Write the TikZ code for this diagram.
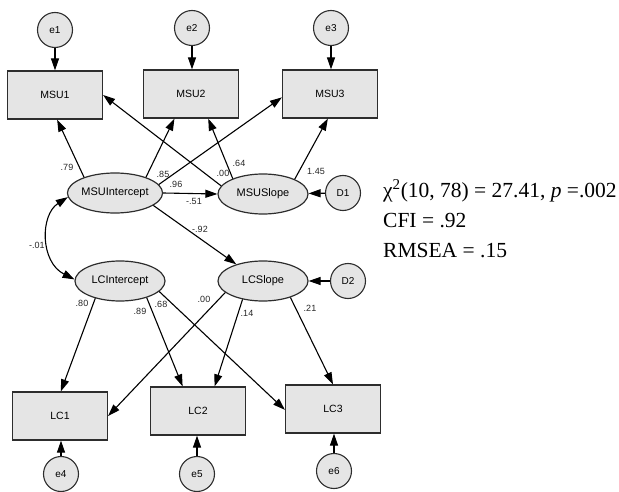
\documentclass[tikz,border=0pt]{standalone}
\usepackage{fontspec}
\setmainfont{Liberation Serif}
\setsansfont{Liberation Sans}
\usetikzlibrary{arrows.meta,shapes.geometric}
\definecolor{boxgray}{RGB}{229,229,229}
\definecolor{edgegray}{RGB}{45,45,45}
\begin{document}
\begin{tikzpicture}[x=1pt,y=-1pt,
  obs/.style={draw=edgegray, fill=boxgray, line width=1.2pt, minimum width=95pt, minimum height=48pt, inner sep=0pt, font=\sffamily\fontsize{10.5}{12}\selectfont},
  lat/.style={ellipse, draw=edgegray, fill=boxgray, line width=1.2pt, minimum width=90pt, minimum height=40pt, inner sep=0pt, font=\sffamily\fontsize{11}{12}\selectfont},
  err/.style={circle, draw=edgegray, fill=boxgray, line width=1.1pt, minimum size=35pt, inner sep=0pt, font=\sffamily\fontsize{10}{12}\selectfont},
  pth/.style={-{Triangle[length=12pt,width=8pt]}, line width=1.1pt, draw=black},
  coef/.style={font=\sffamily\fontsize{9}{10}\selectfont, inner sep=0pt, text=black!85},
  stat/.style={anchor=base west, inner sep=0pt, font=\fontsize{21.5}{24}\selectfont}
]
\useasboundingbox (0,0) rectangle (619,492);
% observed
\node[obs] (msu1) at (55,95) {MSU1};
\node[obs] (msu2) at (191,94) {MSU2};
\node[obs] (msu3) at (330,94) {MSU3};
\node[obs] (lc1) at (60,416) {LC1};
\node[obs] (lc2) at (198,411) {LC2};
\node[obs] (lc3) at (333,409) {LC3};
% errors
\node[err] (e1) at (55,30) {e1};
\node[err] (e2) at (192,28) {e2};
\node[err] (e3) at (331,28) {e3};
\node[err] (e4) at (61,474) {e4};
\node[err] (e5) at (197,474) {e5};
\node[err] (e6) at (334,471) {e6};
% latents
\node[lat] (mi) at (115,193) {MSUIntercept};
\node[lat] (ms) at (263,194) {MSUSlope};
\node[lat] (li) at (120,281) {LCIntercept};
\node[lat] (ls) at (263,281) {LCSlope};
\node[err] (d1) at (343,193) {D1};
\node[err] (d2) at (348,281) {D2};
% error paths
\draw[pth] (e1) -- (e1 |- msu1.north);
\draw[pth] (e2) -- (e2 |- msu2.north);
\draw[pth] (e3) -- (e3 |- msu3.north);
\draw[pth] (e4) -- (e4 |- lc1.south);
\draw[pth] (e5) -- (e5 |- lc2.south);
\draw[pth] (e6) -- (e6 |- lc3.south);
\draw[pth] (d1) -- (ms);
\draw[pth] (d2) -- (ls);
% loadings MSU
\draw[pth] (mi.153) -- (msu1.275);
\draw[pth] (mi.27) -- (msu2.236);
\draw[pth] (mi.11) -- (msu3.184);
\draw[pth] (ms.169) -- (msu1.east);
\draw[pth] (ms.153) -- (msu2.305);
\draw[pth] (ms.25) -- (msu3.265);
\draw[pth] (mi.east) -- (ms.west);
\draw[pth] (mi.342) -- (ls.148);
\draw[{Triangle[length=12pt,width=8pt]}-{Triangle[length=12pt,width=8pt]}, line width=1.1pt] (mi.185) .. controls (40,215) and (40,262) .. (li.178);
% loadings LC
\draw[pth] (li.215) -- (lc1.88);
\draw[pth] (li.328) -- (lc2.122);
\draw[pth] (li.345) -- (lc3.181);
\draw[pth] (ls.197) -- (lc1.east);
\draw[pth] (ls.222) -- (lc2.56);
\draw[pth] (ls.329) -- (lc3.north);
% coefficients
\node[coef] (c1) at (67,167) {.79};
\node[coef] (c2) at (163,174) {.85};
\node[coef] (c3) at (176,184) {.96};
\node[coef] (c4) at (194,201) {-.51};
\node[coef] (c5) at (223,173) {.00};
\node[coef] (c6) at (239,163) {.64};
\node[coef] (c7) at (316,171) {1.45};
\node[coef] (c8) at (200,229) {-.92};
\node[coef] (c9) at (37,245) {-.01};
\node[coef] (c10) at (82,303) {.80};
\node[coef] (c11) at (140,311) {.89};
\node[coef] (c12) at (161,304) {.68};
\node[coef] (c13) at (204,299) {.00};
\node[coef] (c14) at (247,313) {.14};
\node[coef] (c15) at (310,308) {.21};
% fit statistics
\node[stat] (s1) at (383,197) {χ\textsuperscript{2}(10, 78) = 27.41, \textit{p} =.002};
\node[stat] (s2) at (383,227) {CFI = .92};
\node[stat] (s3) at (383,257) {RMSEA = .15};
\end{tikzpicture}
\end{document}
